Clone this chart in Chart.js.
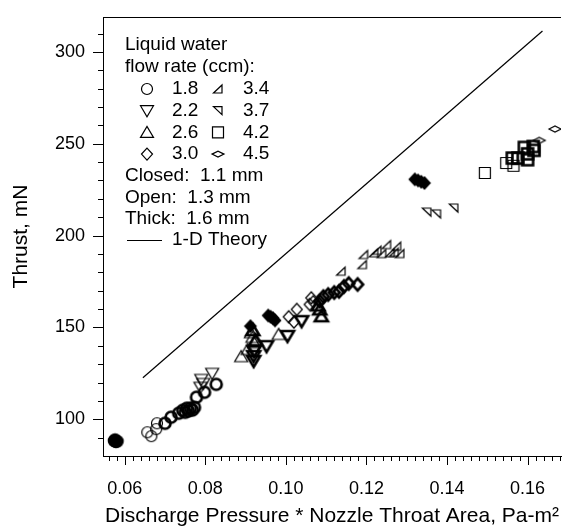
<!DOCTYPE html>
<html>
<head>
<meta charset="utf-8">
<script src="https://cdn.jsdelivr.net/npm/chart.js@4.4.1/dist/chart.umd.min.js"></script>
<style>
  body { margin: 0; background: #fff; }
</style>
</head>
<body>
<canvas id="thrustChart" width="569" height="529"></canvas>
<script>
// Thrust vs discharge pressure * throat area, by water flow rate and nozzle
const xMajorTicks = [0.06, 0.08, 0.10, 0.12, 0.14, 0.16];
const yMajorTicks = [100, 150, 200, 250, 300];

// 1-D theory line (end points)
const theoryX = [0.0645, 0.1637];
const theoryY = [122.6, 311.4];

// Closed nozzle 1.1 mm (filled markers)
const closedCircleX = [0.0573, 0.0578, 0.0582, 0.0576];
const closedCircleY = [88.3, 87.6, 88.0, 89.0];
const closedDiamondX = [0.0912, 0.0956, 0.0962, 0.0968, 0.0973, 0.1320, 0.1328, 0.1336, 0.1344];
const closedDiamondY = [150.7, 156.5, 155.8, 155.0, 153.8, 230.6, 230.0, 229.3, 228.6];

// Open nozzle 1.3 mm (thin markers)
const openCircleX = [0.0656, 0.0666, 0.0678, 0.0680];
const openCircleY = [92.9, 90.8, 94.6, 97.8];
const openDownX = [0.0788, 0.0790, 0.0795, 0.0817];
const openDownY = [117.4, 121.7, 119.5, 125.0];
const openUpX = [0.0889, 0.0905, 0.0913, 0.0917, 0.0921, 0.0982];
const openUpY = [134.1, 138.0, 147.1, 144.6, 141.7, 146.2];
const openDiamondX = [0.1007, 0.1020, 0.1027, 0.1059, 0.1063, 0.1068];
const openDiamondY = [155.8, 152.9, 159.8, 162.5, 166.1, 164.0];
const open34X = [0.1137, 0.1190, 0.1193, 0.1218, 0.1226, 0.1238, 0.1250, 0.1259, 0.1269, 0.1275, 0.1283];
const open34Y = [180.6, 184.2, 189.7, 190.6, 192.0, 190.2, 195.1, 190.6, 190.9, 194.2, 190.2];
const open37X = [0.1350, 0.1374, 0.1417];
const open37Y = [212.8, 211.8, 215.0];
const openSquareX = [0.1494, 0.1547, 0.1565];
const openSquareY = [234.1, 239.5, 238.0];
const openFlatX = [0.1629, 0.1668];
const openFlatY = [251.8, 258.0];

// Thick nozzle 1.6 mm (bold markers)
const thickCircleX = [0.0700, 0.0715, 0.0734, 0.0744, 0.0750, 0.0754, 0.0758, 0.0763, 0.0768, 0.0773, 0.0778, 0.0798, 0.0827];
const thickCircleY = [97.8, 101.1, 103.3, 104.9, 103.8, 106.0, 104.5, 106.0, 105.0, 106.5, 112.0, 114.7, 119.0];
const thickDownX = [0.0920, 0.0920, 0.0921, 0.0952, 0.1004, 0.1039];
const thickDownY = [131.7, 134.4, 137.1, 139.8, 145.3, 153.4];
const thickUpX = [0.0918, 0.0925, 0.1080, 0.1084, 0.1088];
const thickUpY = [148.5, 143.0, 162.0, 159.8, 156.1];
const thickDiamondX = [0.1084, 0.1093, 0.1105, 0.1120, 0.1132, 0.1144, 0.1156, 0.1178];
const thickDiamondY = [164.3, 166.8, 167.9, 169.0, 169.6, 172.3, 173.9, 173.4];
const thickSquareX = [0.1562, 0.1576, 0.1592, 0.1600, 0.1600, 0.1614, 0.1616];
const thickSquareY = [242.2, 242.2, 248.0, 241.3, 244.5, 248.5, 246.4];

// legend
const flowRates = ['1.8', '2.2', '2.6', '3.0', '3.4', '3.7', '4.2', '4.5'];
const flowShapes = ['circle', 'down', 'up', 'diamond', 'tri34', 'tri37', 'square', 'flat'];
const nozzleLines = ['Closed:  1.1 mm', 'Open:  1.3 mm', 'Thick:  1.6 mm'];

const FONT = "'Liberation Sans', Arial, Helvetica, sans-serif";

function tracePath(g, shape, x, y) {
    g.beginPath();
    switch (shape) {
        case 'circle': g.arc(x, y, 5.5, 0, Math.PI * 2); break;
        case 'down':
            g.moveTo(x - 6.5, y - 5); g.lineTo(x + 6.5, y - 5); g.lineTo(x, y + 6); g.closePath(); break;
        case 'up':
            g.moveTo(x - 6.5, y + 5); g.lineTo(x + 6.5, y + 5); g.lineTo(x, y - 6); g.closePath(); break;
        case 'diamond':
            g.moveTo(x, y - 6); g.lineTo(x + 5.5, y); g.lineTo(x, y + 6); g.lineTo(x - 5.5, y); g.closePath(); break;
        case 'tri34':
            g.moveTo(x - 4.5, y + 4); g.lineTo(x + 4, y + 4); g.lineTo(x + 4, y - 4); g.closePath(); break;
        case 'tri37':
            g.moveTo(x - 4.5, y - 4); g.lineTo(x + 4, y - 4); g.lineTo(x + 4, y + 4); g.closePath(); break;
        case 'square': g.rect(x - 5.5, y - 5.5, 11, 11); break;
        case 'flat':
            g.moveTo(x - 6, y); g.lineTo(x, y - 3); g.lineTo(x + 6, y); g.lineTo(x, y + 3); g.closePath(); break;
    }
}

function drawShape(g, shape, x, y, mode) {
    tracePath(g, shape, x, y);
    g.strokeStyle = '#000';
    g.lineJoin = 'miter';
    if (mode === 'filled') {
        g.fillStyle = '#000';
        g.fill();
        g.lineWidth = 1.5;
    } else {
        g.lineWidth = mode === 'thick' ? 2.6 : 1.2;
    }
    g.stroke();
}

function makeMarker(shape, mode) {
    const c = document.createElement('canvas');
    c.width = 20; c.height = 20;
    drawShape(c.getContext('2d'), shape, 10, 10, mode);
    return c;
}

function series(xs, ys, shape, mode) {
    return {
        type: 'scatter',
        data: xs.map((x, i) => ({ x: x, y: ys[i] })),
        pointStyle: makeMarker(shape, mode),
        pointRadius: 7,
        pointHoverRadius: 7
    };
}

const axisDecor = {
    id: 'axisDecor',
    afterDraw(chart) {
        const { ctx, chartArea: a, scales: { x, y } } = chart;
        ctx.save();
        ctx.strokeStyle = '#000';
        ctx.lineWidth = 1;
        ctx.beginPath();
        ctx.moveTo(a.left, a.top + 0.5);
        ctx.lineTo(a.right, a.top + 0.5);
        for (let i = 27; i <= 84; i++) {
            const v = i * 0.002;
            if (v < x.min || v > x.max) continue;
            const px = Math.round(x.getPixelForValue(v)) + 0.5;
            ctx.moveTo(px, a.bottom);
            ctx.lineTo(px, a.bottom + (i % 10 === 0 ? 9 : 5));
        }
        for (let v = 90; v <= 310; v += 10) {
            const py = Math.round(y.getPixelForValue(v)) + 0.5;
            ctx.moveTo(a.left, py);
            ctx.lineTo(a.left - (v % 50 === 0 ? 10 : 5), py);
        }
        ctx.stroke();

        // legend box text
        ctx.fillStyle = '#000';
        ctx.font = '19px ' + FONT;
        ctx.textBaseline = 'middle';
        ctx.textAlign = 'left';
        ctx.fillText('Liquid water', 125, 45);
        ctx.fillText('flow rate (ccm):', 125, 67);
        for (let i = 0; i < 8; i++) {
            const col = i < 4 ? 0 : 1;
            const row = i % 4;
            const yy = 89 + row * 21.7;
            drawShape(ctx, flowShapes[i], col ? 218 : 147, yy, 'thin');
            ctx.fillText(flowRates[i], col ? 243 : 172, yy);
        }
        nozzleLines.forEach((t, i) => ctx.fillText(t, 125, 176 + i * 21.5));
        ctx.beginPath();
        ctx.lineWidth = 1;
        ctx.moveTo(127, 240.5);
        ctx.lineTo(162, 240.5);
        ctx.stroke();
        ctx.fillText('1-D Theory', 172, 240);
        ctx.restore();
    }
};

const datasets = [
    {
        type: 'line',
        data: theoryX.map((x, i) => ({ x: x, y: theoryY[i] })),
        borderColor: '#000',
        borderWidth: 1.2,
        pointRadius: 0,
        fill: false
    },
    series(closedCircleX, closedCircleY, 'circle', 'filled'),
    series(closedDiamondX, closedDiamondY, 'diamond', 'filled'),
    series(openCircleX, openCircleY, 'circle', 'thin'),
    series(openDownX, openDownY, 'down', 'thin'),
    series(openUpX, openUpY, 'up', 'thin'),
    series(openDiamondX, openDiamondY, 'diamond', 'thin'),
    series(open34X, open34Y, 'tri34', 'thin'),
    series(open37X, open37Y, 'tri37', 'thin'),
    series(openSquareX, openSquareY, 'square', 'thin'),
    series(openFlatX, openFlatY, 'flat', 'thin'),
    series(thickCircleX, thickCircleY, 'circle', 'thick'),
    series(thickDownX, thickDownY, 'down', 'thick'),
    series(thickUpX, thickUpY, 'up', 'thick'),
    series(thickDiamondX, thickDiamondY, 'diamond', 'thick'),
    series(thickSquareX, thickSquareY, 'square', 'thick')
];

const ctx = document.getElementById('thrustChart').getContext('2d');

new Chart(ctx, {
    type: 'scatter',
    data: { datasets: datasets },
    options: {
        responsive: false,
        animation: false,
        layout: { padding: { top: 17, right: 0, left: 0, bottom: 0 } },
        plugins: {
            legend: { display: false },
            tooltip: { enabled: false }
        },
        scales: {
            x: {
                type: 'linear',
                min: 0.0546,
                max: 0.1683,
                border: { display: true, color: '#000', width: 1 },
                grid: { display: false, drawTicks: false, tickLength: 0 },
                afterBuildTicks: s => { s.ticks = xMajorTicks.map(v => ({ value: v })); },
                afterFit: s => { s.height = 73; s.paddingLeft = 0; s.paddingRight = 0; },
                ticks: {
                    autoSkip: false,
                    maxRotation: 0,
                    padding: 22,
                    color: '#000',
                    font: { family: FONT, size: 18 },
                    callback: v => v.toFixed(2)
                },
                title: {
                    display: true,
                    text: 'Discharge Pressure * Nozzle Throat Area, Pa-m\u00B2',
                    color: '#000',
                    font: { family: FONT, size: 21 },
                    padding: { top: 0, bottom: 0 }
                }
            },
            y: {
                type: 'linear',
                min: 80,
                max: 319,
                border: { display: true, color: '#000', width: 1 },
                grid: { display: false, drawTicks: false, tickLength: 0 },
                afterBuildTicks: s => { s.ticks = yMajorTicks.map(v => ({ value: v })); },
                afterFit: s => { s.width = 103; s.paddingTop = 0; s.paddingBottom = 0; },
                ticks: {
                    autoSkip: false,
                    padding: 18,
                    color: '#000',
                    font: { family: FONT, size: 18 },
                    callback: v => String(v)
                },
                title: {
                    display: true,
                    text: 'Thrust, mN',
                    color: '#000',
                    font: { family: FONT, size: 21 },
                    padding: { top: 9, bottom: 0 }
                }
            }
        }
    },
    plugins: [axisDecor]
});
</script>
</body>
</html>
